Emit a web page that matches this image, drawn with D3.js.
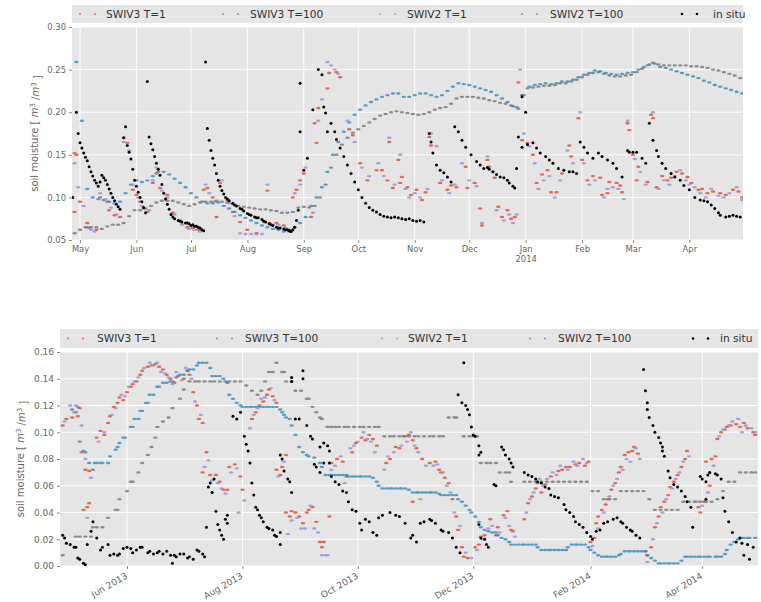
<!DOCTYPE html>
<html><head><meta charset="utf-8">
<script src="https://cdn.jsdelivr.net/npm/d3@7"></script>
<style>body{margin:0;background:#fff}svg{display:block;font-family:"DejaVu Sans",sans-serif}</style>
</head><body><svg id="c" width="761" height="602"></svg>
<script>
// ---------------- DATA ----------------
// day = days since 2013-05-01
const seriesNames = ["SWIV3 T=1","SWIV3 T=100","SWIV2 T=1","SWIV2 T=100","in situ"];
const seriesColors = ["#E24A33","#348ABD","#988ED5","#777777","#000000"];

const topYTicks = [0.05,0.10,0.15,0.20,0.25,0.30];
const bottomYTicks = [0.00,0.02,0.04,0.06,0.08,0.10,0.12,0.14,0.16];
const topXTicks = ["2013-05-01","2013-06-01","2013-07-01","2013-08-01","2013-09-01","2013-10-01","2013-11-01","2013-12-01","2014-01-01","2014-02-01","2014-03-01","2014-04-01"];
const topXTickLabels = ["May","Jun","Jul","Aug","Sep","Oct","Nov","Dec","Jan\n2014","Feb","Mar","Apr"];
const bottomXTicks = ["2013-06-01","2013-08-01","2013-10-01","2013-12-01","2014-02-01","2014-04-01"];
const bottomXTickLabels = ["Jun 2013","Aug 2013","Oct 2013","Dec 2013","Feb 2014","Apr 2014"];

const topSwiv3T1 = [[-3,0.152],[-2,0.15],[-3,0.083],[0,0.095],[4,0.07],[5,0.064],[9,0.062],[11,0.1],[15,0.095],[16,0.085],[19,0.079],[22,0.077],[24,0.17],[26,0.164],[29,0.109],[31,0.103],[33,0.095],[35,0.087],[37,0.083],[40,0.117],[42,0.128],[44,0.111],[48,0.103],[51,0.082],[55,0.073],[59,0.065],[62,0.064],[65,0.062],[68,0.109],[70,0.111],[73,0.1],[75,0.077],[77,0.117],[81,0.097],[84,0.083],[88,0.071],[92,0.062],[97,0.058],[103,0.108],[104,0.07],[108,0.07],[112,0.067],[115,0.062],[117,0.1],[119,0.109],[121,0.12],[123,0.128],[127,0.077],[130,0.164],[131,0.205],[129,0.187],[136,0.228],[137,0.246],[141,0.247],[143,0.241],[148,0.18],[150,0.173],[154,0.14],[158,0.12],[163,0.132],[166,0.132],[169,0.12],[170,0.165],[172,0.111],[175,0.144],[176,0.117],[177,0.124],[180,0.112],[182,0.103],[185,0.109],[188,0.097],[190,0.106],[192,0.171],[193,0.161],[198,0.117],[202,0.109],[204,0.114],[207,0.112],[212,0.136],[213,0.111],[217,0.117],[220,0.087],[221,0.067],[224,0.144],[225,0.136],[228,0.123],[230,0.089],[232,0.077],[235,0.085],[237,0.075],[239,0.077],[241,0.235],[243,0.167],[246,0.164],[249,0.15],[251,0.117],[254,0.127],[257,0.132],[259,0.106],[262,0.106],[265,0.128],[269,0.161],[270,0.148],[274,0.193],[276,0.144],[279,0.12],[282,0.125],[286,0.123],[287,0.103],[290,0.105],[291,0.118],[295,0.117],[297,0.114],[298,0.106],[301,0.187],[302,0.179],[304,0.15],[306,0.12],[307,0.136],[312,0.118],[314,0.197],[315,0.193],[317,0.112],[320,0.125],[323,0.12],[325,0.123],[328,0.13],[331,0.128],[334,0.124],[336,0.117],[340,0.109],[342,0.11],[345,0.105],[348,0.107],[352,0.105],[355,0.103],[359,0.109],[362,0.107],[364,0.1]];

const topSwiv3T100 = [[-2,0.259],[1,0.19],[4,0.11],[7,0.1],[10,0.098],[13,0.097],[16,0.095],[19,0.093],[22,0.095],[25,0.105],[28,0.115],[31,0.12],[34,0.118],[37,0.12],[40,0.125],[43,0.13],[46,0.13],[49,0.127],[52,0.122],[55,0.117],[58,0.112],[61,0.105],[64,0.1],[67,0.095],[70,0.093],[73,0.093],[76,0.094],[79,0.09],[82,0.087],[85,0.083],[88,0.079],[91,0.076],[94,0.073],[97,0.07],[100,0.067],[103,0.065],[106,0.063],[109,0.062],[112,0.06],[115,0.06],[118,0.065],[121,0.07],[124,0.077],[127,0.09],[130,0.1],[133,0.112],[136,0.13],[139,0.15],[142,0.165],[145,0.177],[148,0.188],[151,0.197],[154,0.203],[157,0.208],[160,0.212],[163,0.215],[166,0.218],[169,0.22],[172,0.222],[175,0.222],[178,0.218],[181,0.218],[184,0.22],[187,0.222],[190,0.222],[193,0.22],[196,0.218],[199,0.22],[202,0.225],[205,0.23],[208,0.234],[211,0.233],[214,0.232],[217,0.23],[220,0.228],[223,0.226],[226,0.224],[229,0.22],[232,0.216],[235,0.212],[238,0.207],[241,0.204],[244,0.22],[247,0.23],[250,0.232],[253,0.233],[256,0.234],[259,0.233],[262,0.234],[265,0.236],[268,0.236],[271,0.238],[274,0.241],[277,0.244],[280,0.246],[283,0.249],[286,0.248],[289,0.246],[292,0.245],[295,0.244],[298,0.245],[301,0.246],[304,0.247],[307,0.25],[310,0.253],[313,0.256],[316,0.257],[319,0.253],[322,0.252],[325,0.25],[328,0.248],[331,0.246],[334,0.244],[337,0.242],[340,0.24],[343,0.237],[346,0.235],[349,0.232],[352,0.23],[355,0.228],[358,0.226],[361,0.224],[364,0.222]];

const topSwiv2T1 = [[-3,0.14],[-1,0.112],[2,0.09],[4,0.065],[6,0.062],[8,0.06],[11,0.105],[14,0.098],[17,0.088],[20,0.08],[24,0.165],[27,0.155],[29,0.115],[32,0.1],[34,0.09],[38,0.085],[40,0.12],[42,0.135],[45,0.108],[48,0.1],[52,0.08],[56,0.068],[60,0.063],[63,0.062],[66,0.06],[69,0.115],[71,0.105],[74,0.095],[78,0.12],[82,0.093],[85,0.078],[88,0.058],[91,0.057],[94,0.057],[97,0.057],[100,0.057],[103,0.115],[106,0.068],[109,0.068],[113,0.064],[116,0.06],[118,0.105],[121,0.115],[124,0.135],[128,0.082],[131,0.19],[133,0.215],[136,0.259],[138,0.255],[140,0.25],[142,0.245],[147,0.19],[151,0.165],[155,0.135],[159,0.125],[164,0.14],[167,0.125],[170,0.17],[173,0.115],[176,0.15],[179,0.11],[181,0.1],[184,0.105],[187,0.1],[191,0.11],[193,0.175],[196,0.16],[199,0.12],[203,0.105],[206,0.115],[210,0.14],[214,0.12],[218,0.113],[221,0.07],[224,0.148],[227,0.13],[229,0.085],[233,0.073],[236,0.08],[238,0.07],[240,0.08],[242,0.25],[244,0.175],[247,0.16],[250,0.14],[252,0.11],[255,0.12],[258,0.125],[261,0.1],[264,0.12],[268,0.155],[271,0.14],[275,0.2],[277,0.14],[280,0.115],[283,0.12],[288,0.1],[290,0.11],[293,0.112],[296,0.11],[299,0.098],[301,0.19],[305,0.145],[308,0.13],[311,0.115],[315,0.2],[318,0.11],[321,0.12],[324,0.115],[327,0.125],[330,0.132],[333,0.12],[335,0.115],[338,0.112],[341,0.105],[344,0.1],[347,0.11],[351,0.102],[354,0.1],[357,0.105],[361,0.112],[364,0.097]];

const topSwiv2T100 = [[-3,0.058],[0,0.062],[3,0.065],[6,0.065],[9,0.065],[12,0.063],[15,0.066],[18,0.068],[21,0.068],[24,0.07],[27,0.078],[30,0.085],[33,0.085],[36,0.087],[39,0.09],[42,0.094],[45,0.096],[48,0.096],[51,0.096],[54,0.094],[57,0.092],[60,0.09],[63,0.092],[66,0.094],[69,0.095],[72,0.095],[75,0.096],[78,0.095],[81,0.094],[84,0.092],[87,0.09],[90,0.089],[93,0.088],[96,0.087],[99,0.086],[102,0.086],[105,0.085],[108,0.084],[111,0.082],[114,0.082],[117,0.083],[120,0.088],[123,0.089],[126,0.088],[129,0.09],[132,0.1],[135,0.115],[138,0.135],[141,0.15],[144,0.162],[147,0.17],[150,0.176],[153,0.18],[156,0.184],[159,0.188],[162,0.192],[165,0.196],[168,0.198],[171,0.2],[174,0.201],[177,0.2],[180,0.199],[183,0.198],[186,0.197],[189,0.198],[192,0.2],[195,0.203],[198,0.205],[201,0.206],[204,0.21],[207,0.216],[210,0.218],[213,0.218],[216,0.218],[219,0.217],[222,0.216],[225,0.214],[228,0.213],[231,0.211],[234,0.21],[237,0.208],[240,0.206],[243,0.22],[246,0.228],[249,0.229],[252,0.23],[255,0.231],[258,0.231],[261,0.232],[264,0.234],[267,0.234],[270,0.236],[273,0.238],[276,0.241],[279,0.244],[282,0.246],[285,0.247],[288,0.245],[291,0.243],[294,0.242],[297,0.242],[300,0.243],[303,0.244],[306,0.247],[309,0.251],[312,0.255],[315,0.258],[318,0.256],[321,0.255],[324,0.255],[327,0.255],[330,0.255],[333,0.255],[336,0.254],[339,0.254],[342,0.253],[345,0.252],[348,0.25],[351,0.249],[354,0.247],[357,0.245],[360,0.243],[363,0.24]];

const topInSitu = [[-4,0.10],[-2,0.20],[-1,0.175],[0,0.164],[1,0.158],[2,0.152],[3,0.147],[4,0.143],[5,0.136],[6,0.13],[7,0.125],[8,0.12],[9,0.117],[10,0.113],[11,0.118],[12,0.126],[13,0.123],[14,0.12],[15,0.115],[16,0.11],[17,0.105],[18,0.1],[19,0.096],[20,0.092],[21,0.089],[22,0.086],[24,0.17],[25,0.183],[26,0.161],[27,0.153],[28,0.145],[29,0.133],[30,0.12],[31,0.113],[32,0.106],[33,0.1],[34,0.095],[35,0.088],[36,0.082],[37,0.236],[38,0.171],[39,0.163],[40,0.156],[41,0.148],[42,0.14],[43,0.133],[44,0.126],[45,0.115],[46,0.105],[47,0.098],[48,0.092],[49,0.086],[50,0.08],[51,0.077],[52,0.075],[54,0.073],[55,0.072],[56,0.071],[58,0.07],[59,0.07],[60,0.069],[61,0.067],[62,0.068],[63,0.066],[64,0.066],[65,0.065],[66,0.064],[67,0.062],[68,0.061],[69,0.259],[70,0.181],[71,0.167],[72,0.155],[73,0.146],[74,0.138],[75,0.128],[76,0.12],[77,0.113],[78,0.108],[79,0.104],[80,0.1],[81,0.098],[82,0.096],[84,0.093],[85,0.091],[86,0.09],[88,0.087],[89,0.086],[90,0.084],[92,0.081],[93,0.08],[94,0.079],[96,0.077],[97,0.076],[98,0.076],[100,0.074],[101,0.072],[102,0.071],[104,0.069],[105,0.068],[106,0.067],[108,0.065],[109,0.064],[110,0.064],[112,0.063],[113,0.062],[114,0.062],[115,0.061],[116,0.06],[117,0.062],[118,0.065],[119,0.073],[120,0.085],[121,0.234],[121,0.177],[123,0.132],[125,0.146],[128,0.203],[131,0.25],[133,0.244],[134,0.206],[135,0.199],[136,0.177],[138,0.187],[140,0.177],[141,0.168],[143,0.158],[145,0.148],[147,0.138],[149,0.128],[151,0.118],[153,0.109],[155,0.1],[157,0.093],[159,0.088],[161,0.085],[163,0.083],[165,0.08],[167,0.078],[169,0.077],[171,0.076],[173,0.077],[175,0.076],[177,0.075],[179,0.074],[181,0.075],[183,0.073],[185,0.072],[187,0.073],[189,0.071],[192,0.175],[193,0.165],[194,0.152],[196,0.138],[198,0.132],[200,0.129],[202,0.124],[204,0.118],[206,0.183],[208,0.177],[210,0.167],[212,0.159],[215,0.15],[218,0.142],[220,0.138],[222,0.134],[224,0.135],[225,0.133],[227,0.13],[229,0.127],[231,0.124],[233,0.123],[235,0.12],[236,0.117],[238,0.113],[239,0.111],[240,0.134],[241,0.171],[243,0.218],[245,0.2],[243,0.159],[246,0.162],[249,0.164],[251,0.158],[253,0.152],[256,0.148],[258,0.144],[260,0.14],[263,0.134],[266,0.132],[269,0.13],[271,0.13],[273,0.128],[275,0.165],[277,0.159],[279,0.152],[282,0.146],[285,0.152],[287,0.148],[290,0.144],[293,0.14],[295,0.134],[298,0.124],[301,0.155],[302,0.153],[304,0.153],[306,0.153],[309,0.146],[311,0.14],[313,0.187],[315,0.167],[317,0.155],[318,0.148],[320,0.14],[322,0.134],[325,0.128],[327,0.124],[330,0.12],[332,0.114],[335,0.109],[338,0.1],[341,0.097],[343,0.096],[345,0.095],[347,0.091],[349,0.087],[351,0.082],[352,0.079],[355,0.077],[357,0.078],[359,0.079],[361,0.078],[363,0.077]];

const bottomSwiv3T1 = [[-3,0.105],[-1,0.11],[2,0.111],[5,0.112],[6,0.118],[7,0.085],[8,0.042],[10,0.044],[11,0.047],[9,0.072],[11,0.071],[15,0.096],[17,0.101],[19,0.098],[21,0.107],[22,0.112],[24,0.119],[26,0.122],[27,0.126],[29,0.124],[31,0.13],[33,0.134],[34,0.136],[36,0.138],[38,0.143],[39,0.146],[42,0.149],[44,0.15],[46,0.151],[48,0.149],[50,0.147],[52,0.143],[54,0.14],[56,0.137],[58,0.142],[61,0.14],[63,0.146],[64,0.143],[66,0.13],[68,0.12],[69,0.11],[71,0.107],[71,0.07],[73,0.085],[75,0.068],[78,0.068],[80,0.063],[82,0.057],[84,0.057],[85,0.074],[88,0.076],[91,0.067],[92,0.057],[97,0.11],[99,0.115],[101,0.12],[103,0.123],[105,0.128],[106,0.132],[108,0.127],[110,0.122],[110,0.072],[112,0.068],[113,0.074],[115,0.083],[115,0.04],[117,0.037],[118,0.041],[120,0.04],[122,0.037],[124,0.032],[126,0.04],[127,0.042],[129,0.044],[131,0.033],[133,0.018],[134,0.014],[135,0.018],[138,0.037],[139,0.077],[142,0.08],[145,0.078],[147,0.067],[150,0.085],[152,0.092],[155,0.096],[157,0.094],[159,0.098],[161,0.095],[163,0.09],[168,0.077],[170,0.08],[173,0.089],[175,0.088],[178,0.097],[180,0.098],[182,0.094],[184,0.088],[182,0.048],[187,0.08],[191,0.077],[194,0.078],[196,0.072],[197,0.07],[199,0.066],[201,0.062],[203,0.05],[205,0.037],[206,0.027],[208,0.014],[209,0.007],[211,0.006],[215,0.014],[217,0.016],[218,0.022],[220,0.023],[223,0.035],[226,0.023],[227,0.029],[230,0.038],[232,0.041],[234,0.027],[235,0.026],[241,0.035],[243,0.047],[245,0.052],[247,0.058],[248,0.062],[250,0.055],[252,0.061],[255,0.067],[259,0.071],[261,0.072],[263,0.074],[265,0.074],[268,0.076],[270,0.077],[273,0.075],[275,0.078],[276,0.018],[278,0.021],[279,0.032],[280,0.037],[282,0.042],[284,0.046],[285,0.05],[287,0.057],[289,0.062],[291,0.07],[292,0.074],[294,0.083],[296,0.085],[298,0.086],[299,0.089],[301,0.084],[305,0.011],[306,0.008],[308,0.014],[310,0.029],[312,0.037],[313,0.044],[315,0.048],[317,0.053],[318,0.059],[320,0.063],[322,0.068],[324,0.074],[326,0.08],[327,0.086],[333,0.044],[334,0.04],[336,0.048],[337,0.078],[339,0.06],[340,0.08],[342,0.082],[343,0.095],[345,0.1],[347,0.102],[348,0.104],[350,0.105],[353,0.106],[355,0.104],[357,0.107],[359,0.103],[362,0.1],[363,0.098]];

const bottomSwiv3T100 = [[2,0.117],[4,0.115],[5,0.119],[6,0.093],[8,0.086],[9,0.085],[11,0.077],[13,0.072],[14,0.077],[15,0.077],[17,0.077],[18,0.077],[21,0.077],[22,0.082],[25,0.087],[26,0.089],[27,0.092],[29,0.096],[30,0.096],[33,0.104],[34,0.104],[35,0.11],[37,0.11],[38,0.116],[39,0.116],[41,0.122],[42,0.122],[43,0.128],[45,0.128],[47,0.134],[48,0.134],[50,0.137],[52,0.137],[54,0.138],[55,0.138],[57,0.141],[59,0.143],[61,0.143],[63,0.146],[64,0.147],[66,0.147],[68,0.15],[69,0.152],[71,0.152],[73,0.152],[75,0.148],[76,0.142],[78,0.142],[80,0.142],[82,0.14],[84,0.137],[85,0.128],[87,0.125],[89,0.122],[91,0.12],[92,0.119],[94,0.119],[96,0.119],[97,0.119],[99,0.119],[101,0.119],[103,0.119],[105,0.119],[106,0.119],[108,0.119],[110,0.119],[112,0.117],[113,0.115],[114,0.113],[115,0.111],[117,0.11],[118,0.105],[120,0.098],[122,0.089],[124,0.085],[126,0.083],[127,0.082],[130,0.081],[133,0.077],[134,0.074],[136,0.068],[138,0.068],[139,0.068],[141,0.068],[143,0.068],[145,0.068],[147,0.068],[148,0.067],[150,0.067],[152,0.067],[154,0.067],[155,0.067],[157,0.067],[159,0.067],[161,0.066],[163,0.063],[164,0.06],[166,0.058],[168,0.058],[170,0.058],[171,0.058],[173,0.058],[175,0.058],[176,0.058],[178,0.058],[180,0.057],[182,0.055],[184,0.055],[185,0.055],[187,0.055],[189,0.055],[191,0.055],[192,0.055],[194,0.055],[196,0.054],[197,0.053],[199,0.053],[201,0.053],[203,0.053],[205,0.053],[206,0.05],[208,0.048],[210,0.045],[212,0.042],[213,0.04],[215,0.037],[217,0.033],[218,0.029],[220,0.027],[222,0.026],[224,0.025],[226,0.025],[227,0.023],[229,0.021],[231,0.02],[233,0.018],[234,0.016],[236,0.016],[238,0.016],[240,0.016],[241,0.016],[243,0.016],[245,0.016],[247,0.016],[248,0.014],[250,0.012],[252,0.012],[254,0.012],[255,0.012],[257,0.012],[259,0.012],[261,0.012],[263,0.012],[264,0.014],[266,0.016],[268,0.016],[269,0.016],[271,0.016],[273,0.016],[275,0.014],[276,0.012],[278,0.01],[280,0.008],[282,0.007],[284,0.007],[285,0.007],[287,0.007],[289,0.007],[291,0.008],[292,0.009],[294,0.011],[296,0.011],[297,0.011],[299,0.011],[301,0.011],[303,0.011],[305,0.011],[306,0.008],[308,0.006],[310,0.004],[312,0.002],[313,0.002],[315,0.002],[317,0.002],[318,0.002],[320,0.002],[322,0.002],[324,0.004],[326,0.007],[327,0.007],[329,0.007],[331,0.007],[333,0.007],[334,0.007],[336,0.007],[338,0.007],[339,0.007],[342,0.007],[343,0.007],[345,0.007],[347,0.009],[348,0.012],[350,0.016],[352,0.018],[354,0.02],[355,0.021],[357,0.021],[359,0.021],[360,0.021],[363,0.021]];

const bottomSwiv2T1 = [[-2,0.108],[1,0.12],[3,0.115],[4,0.12],[7,0.105],[9,0.08],[10,0.036],[12,0.066],[16,0.093],[19,0.1],[23,0.113],[25,0.118],[28,0.128],[30,0.127],[32,0.134],[35,0.138],[37,0.141],[40,0.148],[43,0.152],[45,0.15],[47,0.152],[49,0.145],[51,0.144],[53,0.141],[55,0.136],[57,0.145],[60,0.139],[62,0.148],[65,0.14],[67,0.123],[70,0.113],[72,0.074],[74,0.079],[76,0.064],[79,0.062],[81,0.058],[83,0.054],[86,0.07],[89,0.073],[90,0.04],[93,0.049],[96,0.103],[98,0.113],[100,0.118],[102,0.125],[104,0.126],[107,0.133],[109,0.124],[111,0.067],[114,0.078],[116,0.024],[118,0.034],[121,0.036],[123,0.028],[125,0.028],[128,0.045],[130,0.028],[132,0.025],[134,0.008],[136,0.008],[137,0.008],[139,0.072],[141,0.075],[144,0.082],[146,0.062],[149,0.088],[151,0.09],[153,0.093],[156,0.1],[158,0.095],[160,0.093],[162,0.085],[167,0.072],[169,0.082],[172,0.085],[176,0.09],[179,0.093],[181,0.1],[183,0.09],[185,0.085],[186,0.05],[189,0.075],[193,0.075],[195,0.076],[198,0.07],[200,0.06],[202,0.055],[204,0.04],[207,0.03],[210,0.01],[213,0.006],[216,0.012],[219,0.02],[222,0.028],[224,0.03],[228,0.025],[231,0.036],[233,0.03],[236,0.022],[242,0.04],[244,0.05],[246,0.055],[249,0.065],[251,0.06],[253,0.065],[256,0.07],[258,0.068],[260,0.075],[264,0.072],[267,0.078],[269,0.075],[272,0.08],[274,0.077],[277,0.015],[280,0.028],[283,0.04],[286,0.052],[288,0.06],[290,0.065],[293,0.072],[295,0.08],[297,0.078],[300,0.088],[302,0.08],[306,0.003],[309,0.02],[311,0.032],[314,0.04],[316,0.05],[319,0.058],[321,0.065],[323,0.07],[325,0.078],[328,0.082],[332,0.048],[335,0.045],[338,0.055],[341,0.075],[344,0.097],[346,0.102],[349,0.105],[351,0.108],[354,0.11],[356,0.1],[358,0.105],[361,0.103],[363,0.1]];

const bottomSwiv2T100 = [[-3,0.008],[4,0.022],[6,0.022],[9,0.022],[12,0.022],[13,0.029],[15,0.029],[18,0.029],[21,0.036],[25,0.042],[26,0.042],[27,0.05],[31,0.056],[33,0.063],[34,0.063],[37,0.07],[39,0.077],[42,0.083],[44,0.089],[46,0.096],[47,0.104],[50,0.108],[53,0.111],[55,0.118],[59,0.125],[61,0.132],[64,0.138],[67,0.138],[69,0.138],[72,0.138],[75,0.138],[77,0.138],[80,0.138],[83,0.138],[85,0.138],[88,0.138],[91,0.138],[94,0.135],[97,0.131],[100,0.128],[102,0.131],[104,0.138],[106,0.145],[108,0.145],[110,0.152],[113,0.145],[114,0.145],[115,0.138],[118,0.138],[120,0.131],[123,0.131],[126,0.125],[127,0.125],[129,0.119],[131,0.115],[133,0.111],[134,0.11],[137,0.104],[139,0.104],[141,0.104],[143,0.104],[146,0.104],[148,0.104],[151,0.104],[154,0.104],[156,0.104],[159,0.104],[162,0.104],[164,0.104],[167,0.097],[170,0.097],[172,0.097],[175,0.097],[177,0.097],[180,0.097],[183,0.097],[185,0.097],[188,0.097],[191,0.097],[193,0.097],[196,0.097],[198,0.097],[201,0.111],[204,0.111],[205,0.111],[209,0.097],[212,0.097],[214,0.097],[216,0.097],[218,0.077],[221,0.077],[223,0.077],[226,0.077],[228,0.07],[231,0.07],[233,0.07],[234,0.063],[241,0.063],[244,0.063],[247,0.063],[250,0.063],[253,0.063],[256,0.063],[259,0.063],[262,0.063],[265,0.063],[268,0.063],[271,0.063],[274,0.063],[277,0.056],[280,0.056],[283,0.05],[286,0.05],[289,0.05],[292,0.056],[295,0.056],[298,0.056],[301,0.056],[304,0.056],[307,0.05],[310,0.042],[313,0.042],[316,0.042],[319,0.042],[322,0.042],[325,0.048],[328,0.048],[331,0.048],[334,0.048],[337,0.048],[340,0.048],[343,0.05],[346,0.056],[349,0.063],[352,0.063],[355,0.07],[358,0.07],[361,0.07],[363,0.07]];

const bottomInSitu = [[-3,0.023],[-2,0.021],[-1,0.017],[1,0.016],[3,0.014],[4,0.014],[5,0.006],[6,0.005],[8,0.002],[9,0.001],[10,0.016],[12,0.026],[13,0.033],[15,0.021],[17,0.012],[18,0.014],[21,0.016],[22,0.008],[24,0.009],[26,0.008],[27,0.009],[29,0.013],[31,0.014],[33,0.013],[34,0.01],[36,0.012],[38,0.014],[39,0.014],[42,0.01],[43,0.011],[45,0.009],[47,0.01],[48,0.011],[50,0.009],[52,0.011],[54,0.008],[55,0.002],[56,0.008],[57,0.007],[59,0.009],[61,0.009],[63,0.006],[64,0.007],[66,0.005],[68,0.012],[69,0.011],[71,0.009],[72,0.007],[73,0.029],[74,0.059],[75,0.062],[76,0.055],[77,0.065],[78,0.041],[79,0.031],[80,0.027],[81,0.023],[82,0.02],[83,0.035],[84,0.038],[84,0.032],[87,0.112],[89,0.11],[91,0.115],[93,0.097],[94,0.091],[95,0.086],[96,0.077],[97,0.062],[98,0.053],[99,0.044],[100,0.042],[101,0.038],[102,0.036],[103,0.033],[105,0.029],[106,0.028],[108,0.027],[109,0.023],[110,0.022],[112,0.025],[112,0.016],[112,0.083],[113,0.08],[114,0.071],[116,0.065],[117,0.063],[118,0.055],[118,0.141],[118,0.138],[124,0.14],[124,0.146],[120,0.11],[122,0.11],[126,0.105],[128,0.097],[129,0.095],[133,0.089],[135,0.092],[137,0.09],[138,0.086],[130,0.076],[131,0.074],[133,0.07],[135,0.077],[138,0.077],[139,0.067],[141,0.063],[143,0.061],[145,0.056],[147,0.055],[148,0.048],[150,0.042],[152,0.041],[154,0.032],[155,0.027],[157,0.035],[159,0.033],[161,0.025],[163,0.023],[164,0.036],[166,0.038],[170,0.04],[173,0.038],[175,0.037],[178,0.032],[181,0.021],[182,0.023],[184,0.018],[186,0.032],[188,0.033],[191,0.035],[192,0.034],[194,0.032],[197,0.027],[198,0.026],[201,0.025],[203,0.021],[205,0.014],[207,0.01],[209,0.152],[206,0.128],[208,0.122],[210,0.12],[211,0.117],[212,0.113],[213,0.104],[214,0.098],[215,0.097],[217,0.09],[218,0.085],[217,0.083],[225,0.061],[226,0.06],[229,0.089],[230,0.087],[231,0.083],[233,0.08],[234,0.077],[235,0.074],[217,0.031],[218,0.021],[220,0.02],[221,0.016],[222,0.014],[241,0.07],[243,0.068],[245,0.067],[247,0.065],[248,0.063],[250,0.062],[252,0.059],[254,0.058],[255,0.053],[257,0.052],[259,0.051],[262,0.046],[263,0.042],[265,0.04],[267,0.037],[268,0.033],[270,0.031],[272,0.029],[274,0.025],[276,0.022],[277,0.02],[279,0.026],[281,0.027],[283,0.032],[285,0.033],[288,0.035],[290,0.036],[292,0.033],[293,0.032],[295,0.029],[297,0.027],[298,0.026],[300,0.023],[302,0.021],[304,0.147],[305,0.131],[306,0.122],[306,0.117],[307,0.111],[309,0.105],[310,0.1],[312,0.096],[313,0.092],[314,0.089],[314,0.086],[315,0.082],[317,0.071],[318,0.066],[320,0.061],[322,0.059],[324,0.056],[326,0.052],[327,0.048],[329,0.044],[330,0.029],[334,0.067],[335,0.065],[337,0.063],[337,0.05],[338,0.068],[339,0.07],[342,0.069],[343,0.068],[345,0.065],[346,0.051],[347,0.041],[349,0.033],[351,0.025],[353,0.018],[355,0.021],[356,0.017],[357,0.008],[359,0.016],[360,0.005],[362,0.014]];

// ---------------- DRAWING ----------------
const svg = d3.select("#c");
const day0 = Date.UTC(2013, 4, 1);
const toDate = d => new Date(day0 + d * 864e5);
const xStart = new Date(Date.UTC(2013, 3, 26, 14));
const xEnd = new Date(Date.UTC(2014, 3, 30, 12));
const parseDate = d3.utcParse("%Y-%m-%d");

const panels = [
  {id:"t", left:72, right:743, top:27, bottom:240, yDomain:[0.05,0.30], yTicks:topYTicks, yFmt:d3.format(".2f"), tickFont:8.4,
   xTicks:topXTicks, xLabels:topXTickLabels, rotate:false, series:[topSwiv3T1, topSwiv3T100, topSwiv2T1, topSwiv2T100, topInSitu],
   legend:{y0:5, y1:23, mx:[80,223,380,522,682], tx:[106,250,407,550,713]}, ylabX:38},
  {id:"b", left:60, right:758, top:352, bottom:566, yDomain:[0,0.16], yTicks:bottomYTicks, yFmt:d3.format(".2f"), tickFont:9,
   xTicks:bottomXTicks, xLabels:bottomXTickLabels, rotate:true, series:[bottomSwiv3T1, bottomSwiv3T100, bottomSwiv2T1, bottomSwiv2T100, bottomInSitu],
   legend:{y0:329, y1:348, mx:[68,217,382,530,693], tx:[97,245,408,558,720]}, ylabX:24}
];

panels.forEach(p => {
  const x = d3.scaleUtc().domain([xStart, xEnd]).range([p.left, p.right]);
  const y = d3.scaleLinear().domain(p.yDomain).range([p.bottom, p.top]);
  const g = svg.append("g");
  g.append("rect").attr("x", p.left).attr("y", p.top).attr("width", p.right - p.left).attr("height", p.bottom - p.top).attr("fill", "#E5E5E5");
  const tickDates = p.xTicks.map(parseDate);
  // grid
  g.selectAll(".gy").data(p.yTicks).join("line").attr("x1", p.left).attr("x2", p.right)
    .attr("y1", d => y(d)).attr("y2", d => y(d)).attr("stroke", "#fff").attr("stroke-width", 0.9);
  g.selectAll(".gx").data(tickDates).join("line").attr("y1", p.top).attr("y2", p.bottom)
    .attr("x1", d => x(d)).attr("x2", d => x(d)).attr("stroke", "#fff").attr("stroke-width", 0.9);

  // axes
  const ya = g.append("g").attr("transform", `translate(${p.left},0)`)
    .call(d3.axisLeft(y).tickValues(p.yTicks).tickFormat(p.yFmt).tickSize(3).tickPadding(3));
  ya.select(".domain").remove();
  ya.selectAll("line").attr("stroke", "#888");
  ya.selectAll("text").attr("fill", "#666").style("font-size", p.tickFont + "px").style("font-family", "DejaVu Sans");

  const xa = g.append("g").attr("transform", `translate(0,${p.bottom})`)
    .call(d3.axisBottom(x).tickValues(tickDates).tickFormat((d, i) => p.xLabels[i]).tickSize(3).tickPadding(3));
  xa.select(".domain").remove();
  xa.selectAll("line").attr("stroke", "#888");
  xa.selectAll("text").attr("fill", "#666").style("font-size", p.tickFont + "px").style("font-family", "DejaVu Sans");
  if (p.rotate) {
    xa.selectAll("text").attr("text-anchor", "end").attr("dy", "0.35em")
      .attr("transform", "translate(-1,9) rotate(-30)").attr("y", 0).attr("x", 0);
  } else {
    xa.selectAll("text").each(function(d, i) {
      const parts = p.xLabels[i].split("\n");
      const t = d3.select(this).text(null);
      parts.forEach((s, k) => t.append("tspan").attr("x", 0).attr("dy", k === 0 ? "0.71em" : "1.15em").text(s));
    });
  }

  // y label
  const yl = g.append("text").attr("transform", `translate(${p.ylabX},${(p.top + p.bottom) / 2}) rotate(-90)`)
    .attr("text-anchor", "middle").attr("fill", "#666").style("font-size", "10px");
  yl.append("tspan").text("soil moisture [ ");
  yl.append("tspan").attr("font-style", "italic").text("m");
  yl.append("tspan").attr("dy", "-0.45em").style("font-size", "7px").text("3");
  yl.append("tspan").attr("dy", "0.45em").text(" /");
  yl.append("tspan").attr("font-style", "italic").text("m");
  yl.append("tspan").attr("dy", "-0.45em").style("font-size", "7px").text("3");
  yl.append("tspan").attr("dy", "0.45em").text(" ]");

  // data
  const clipId = "clip" + p.id;
  svg.append("clipPath").attr("id", clipId).append("rect")
    .attr("x", p.left).attr("y", p.top).attr("width", p.right - p.left).attr("height", p.bottom - p.top);
  const dg = g.append("g").attr("clip-path", `url(#${clipId})`);
  p.series.forEach((data, si) => {
    const sg = dg.append("g").attr("fill", seriesColors[si]);
    if (si === 4) {
      sg.selectAll("circle").data(data).join("circle")
        .attr("cx", d => x(toDate(d[0]))).attr("cy", d => y(d[1])).attr("r", 1.5);
    } else {
      sg.attr("opacity", 0.8).selectAll("ellipse").data(data).join("ellipse")
        .attr("cx", d => x(toDate(d[0]))).attr("cy", d => y(d[1])).attr("rx", 2.2).attr("ry", 1.2);
    }
  });

  // legend
  const L = p.legend;
  g.append("rect").attr("x", p.left).attr("y", L.y0).attr("width", p.right - p.left).attr("height", L.y1 - L.y0).attr("fill", "#E5E5E5");
  seriesNames.forEach((name, i) => {
    const cy = (L.y0 + L.y1) / 2;
    [0, 15].forEach(off => g.append("circle").attr("cx", L.mx[i] + off).attr("cy", cy).attr("r", i === 4 ? 1.3 : 1.1)
      .attr("fill", seriesColors[i]).attr("opacity", i === 4 ? 1 : 0.7));
    g.append("text").attr("x", L.tx[i]).attr("y", cy).attr("dy", "0.36em").attr("fill", "#333")
      .style("font-size", "10.6px").text(name);
  });
});
</script></body></html>
